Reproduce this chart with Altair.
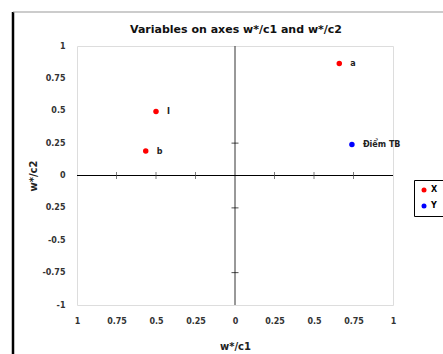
import altair as alt
import pandas as pd

# Data
names = ["a", "I", "b", "Điểm TB"]
series = ["X", "X", "X", "Y"]
xs = [0.66, -0.50, -0.565, 0.74]
ys = [0.865, 0.495, 0.19, 0.24]

tick_vals = [-1, -0.75, -0.5, -0.25, 0, 0.25, 0.5, 0.75, 1]
x_inner_ticks = [-0.75, -0.5, -0.25, 0.25, 0.5, 0.75]
y_inner_ticks = [0.25, -0.25, -0.75]
title_text = "Variables on axes w*/c1 and w*/c2"

pts = pd.DataFrame({"name": names, "series": series, "x": xs, "y": ys})
xt = pd.DataFrame({"x": x_inner_ticks, "y": [0] * len(x_inner_ticks)})
yt = pd.DataFrame({"y": y_inner_ticks, "x": [0] * len(y_inner_ticks)})
zero = pd.DataFrame({"v": [0]})
ttl = pd.DataFrame({"t": [title_text]})

FONT = "DejaVu Sans"
xscale = alt.Scale(domain=[-1, 1], nice=False, zero=False)
yscale = alt.Scale(domain=[-1, 1], nice=False, zero=False)

xaxis = alt.Axis(values=tick_vals, title="w*/c1", ticks=False, domain=False, grid=False,
                 labelOverlap=False, labelFlush=False,
                 labelPadding=12, labelFontSize=8, labelFont=FONT, labelFontWeight="bold",
                 labelColor="#333", titleFont=FONT, titleFontSize=10, titleFontWeight="bold",
                 titlePadding=16, titleColor="#222",
                 labelExpr="format(abs(datum.value), '~g')")
yaxis = alt.Axis(values=tick_vals, title="w*/c2", ticks=False, domain=False, grid=False,
                 labelOverlap=False, labelFlush=False,
                 labelPadding=12, labelFontSize=8, labelFont=FONT, labelFontWeight="bold",
                 labelColor="#333", titleFont=FONT, titleFontSize=10, titleFontWeight="bold",
                 titlePadding=3, titleColor="#222",
                 labelExpr="datum.value == -0.25 ? '0.25' : (datum.value < 0 ? '-' + format(abs(datum.value), '~g') : format(datum.value, '~g'))")


def X(field):
    return alt.X(field, scale=xscale, axis=xaxis)


def Y(field):
    return alt.Y(field, scale=yscale, axis=yaxis)


base = alt.Chart(pts)

points = base.mark_circle(size=30, opacity=1).encode(
    x=X("x:Q"),
    y=Y("y:Q"),
    color=alt.Color("series:N", scale=alt.Scale(domain=["X", "Y"], range=["#FF0000", "#0000FF"]),
                    legend=alt.Legend(title=None, orient="none", legendX=337, legendY=134,
                                      strokeColor="black", padding=6, symbolSize=25,
                                      symbolType="circle", labelFont=FONT, labelFontSize=8,
                                      labelFontWeight="bold", rowPadding=8, labelOffset=3)),
)

labels = base.mark_text(align="left", dx=11, dy=1, font=FONT, fontSize=8, fontWeight="bold",
                        color="#222").encode(x=X("x:Q"), y=Y("y:Q"), text="name:N")

vline = alt.Chart(zero).mark_rule(color="#333", strokeWidth=1).encode(x=X("v:Q"))
hline = alt.Chart(zero).mark_rule(color="black", strokeWidth=1.2).encode(y=Y("v:Q"))

xticks = alt.Chart(xt).mark_tick(color="#444", size=7, thickness=1).encode(
    x=X("x:Q"), y=Y("y:Q"))
yticks = alt.Chart(yt).mark_tick(color="black", size=7, thickness=1, orient="horizontal").encode(
    y=Y("y:Q"), x=X("x:Q"))

left_frame = alt.Chart(zero).mark_rule(color="black", strokeWidth=2.5).encode(
    x=alt.value(-64), y=alt.value(-34), y2=alt.value(320))
top_frame = alt.Chart(zero).mark_rule(color="#999", strokeWidth=1).encode(
    x=alt.value(-64), x2=alt.value(380), y=alt.value(-34))

title = alt.Chart(ttl).mark_text(font=FONT, fontSize=11, fontWeight="bold", color="#111",
                                 align="center", baseline="middle").encode(
    x=alt.value(159), y=alt.value(-16), text="t:N")

chart = alt.layer(left_frame, top_frame, vline, hline, xticks, yticks, points, labels, title).properties(
    width=316, height=259,
    autosize=alt.AutoSizeParams(type="none"),
    padding={"left": 77, "top": 46, "right": 50, "bottom": 49},
).configure_view(stroke="black", strokeWidth=1.5).configure(background="white")

chart.save("out.html", embed_options={"renderer": "svg", "actions": False})
